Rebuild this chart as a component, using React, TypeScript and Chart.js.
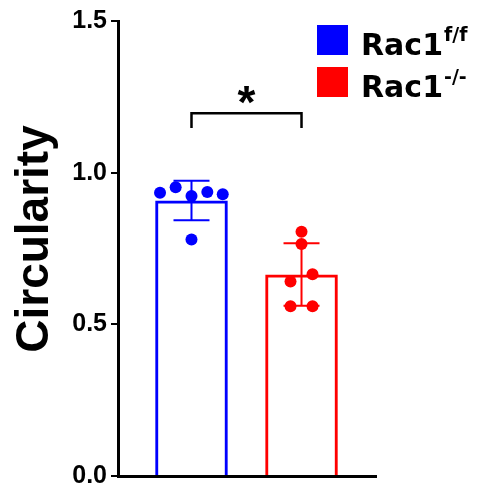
import React, { useEffect, useRef } from 'react';
import { Chart, registerables } from 'chart.js';

Chart.register(...registerables);

// ---- data ----
const groupBase = ['Rac1', 'Rac1'];
const groupSup = ['f/f', '-/-'];
const groupPos = [1, 2];
const groupColors = ['#0000ff', '#ff0000'];
const means = [0.908, 0.664];
const sds = [0.065, 0.103];
const blueValues = [0.934, 0.952, 0.923, 0.936, 0.929, 0.78];
const blueJitter = [-0.286, -0.144, 0, 0.144, 0.284, 0];
const redValues = [0.805, 0.765, 0.665, 0.641, 0.56, 0.56];
const redJitter = [0, 0, 0.1, -0.1, -0.1, 0.1];
const yTicks = [0, 0.5, 1.0, 1.5];
const yTitle = 'Circularity';
const sigLabel = '*';
const sigBracketTop = 1.196;
const sigBracketFoot = 1.147;
const sigLabelY = 1.265;

const FONT = '"Liberation Sans", Arial, sans-serif';

const errorBarPlugin = {
  id: 'errorBars',
  beforeDatasetsDraw(chart: any) {
    const { ctx, scales } = chart;
    const xs = scales.x;
    const ys = scales.y;
    ctx.save();
    ctx.lineWidth = 2;
    groupPos.forEach((gp, i) => {
      const x = xs.getPixelForValue(gp);
      const yt = ys.getPixelForValue(means[i] + sds[i]);
      const yb = ys.getPixelForValue(means[i] - sds[i]);
      ctx.strokeStyle = groupColors[i];
      ctx.beginPath();
      ctx.moveTo(x, yt);
      ctx.lineTo(x, yb);
      ctx.moveTo(x - 18, yt);
      ctx.lineTo(x + 18, yt);
      ctx.moveTo(x - 18, yb);
      ctx.lineTo(x + 18, yb);
      ctx.stroke();
    });
    ctx.restore();
  },
};

const annotationsPlugin = {
  id: 'annotations',
  afterDraw(chart: any) {
    const { ctx, scales } = chart;
    const xs = scales.x;
    const ys = scales.y;
    ctx.save();
    // significance bracket
    const x1 = xs.getPixelForValue(groupPos[0]);
    const x2 = xs.getPixelForValue(groupPos[1]);
    const yTop = ys.getPixelForValue(sigBracketTop);
    const yFoot = ys.getPixelForValue(sigBracketFoot);
    ctx.strokeStyle = '#000';
    ctx.lineWidth = 2.5;
    ctx.lineCap = 'butt';
    ctx.lineJoin = 'miter';
    ctx.beginPath();
    ctx.moveTo(x1, yFoot);
    ctx.lineTo(x1, yTop);
    ctx.lineTo(x2, yTop);
    ctx.lineTo(x2, yFoot);
    ctx.stroke();
    ctx.fillStyle = '#000';
    ctx.font = `bold 46px ${FONT}`;
    ctx.textAlign = 'center';
    ctx.textBaseline = 'alphabetic';
    ctx.fillText(sigLabel, (x1 + x2) / 2, ys.getPixelForValue(sigLabelY) + 26);

    // y title
    ctx.save();
    ctx.translate(48, 239);
    ctx.rotate(-Math.PI / 2);
    ctx.font = `bold 46px ${FONT}`;
    ctx.textAlign = 'center';
    ctx.textBaseline = 'alphabetic';
    ctx.fillText(yTitle, 0, 0);
    ctx.restore();

    // legend
    groupBase.forEach((base, i) => {
      const top = 25 + i * 42;
      ctx.fillStyle = groupColors[i];
      ctx.fillRect(317, top, 31, 30);
      ctx.fillStyle = '#000';
      ctx.textAlign = 'left';
      ctx.font = `bold 30px "DejaVu Sans", sans-serif`;
      ctx.fillText(base, 361, top + 30);
      const w = ctx.measureText(base).width;
      ctx.font = `bold 19px "DejaVu Sans", sans-serif`;
      ctx.fillText(groupSup[i], 361 + w + 1, top + 16);
    });
    ctx.restore();
  },
};

export default function App() {
  const ref = useRef<HTMLCanvasElement>(null);
  useEffect(() => {
    document.body.style.margin = '0';
    const canvas = ref.current!;
    const chart = new Chart(canvas, {
      data: {
        datasets: [
          {
            type: 'scatter',
            data: blueValues.map((v, i) => ({ x: groupPos[0] + blueJitter[i], y: v })),
            backgroundColor: groupColors[0],
            borderWidth: 0,
            pointRadius: 6,
            order: 0,
          },
          {
            type: 'scatter',
            data: redValues.map((v, i) => ({ x: groupPos[1] + redJitter[i], y: v })),
            backgroundColor: groupColors[1],
            borderWidth: 0,
            pointRadius: 6,
            order: 0,
          },
          {
            type: 'bar',
            data: groupPos.map((x, i) => ({ x, y: means[i] })),
            backgroundColor: 'rgba(0,0,0,0)',
            borderColor: groupColors,
            borderWidth: 3,
            borderSkipped: 'start',
            barPercentage: 0.66,
            categoryPercentage: 1,
            order: 1,
          } as any,
        ],
      },
      options: {
        responsive: false,
        animation: false,
        devicePixelRatio: 1,
        layout: { padding: { left: 0, right: 107, top: 21, bottom: 13 } },
        plugins: { legend: { display: false }, tooltip: { enabled: false } },
        scales: {
          x: {
            type: 'linear',
            offset: false,
            min: 0.332,
            max: 2.677,
            afterBuildTicks: (s: any) => {
              s.ticks = groupPos.map((v) => ({ value: v }));
            },
            ticks: { display: false },
            grid: { display: false, drawTicks: false },
            border: { display: true, color: '#000', width: 3 },
            afterFit: (s: any) => {
              s.height = 0;
            },
          },
          y: {
            type: 'linear',
            min: 0,
            max: 1.5,
            afterBuildTicks: (s: any) => {
              s.ticks = yTicks.map((v) => ({ value: v }));
            },
            ticks: {
              color: '#000',
              padding: 4,
              font: { family: FONT, size: 25, weight: 'bold', lineHeight: 0.6 },
              callback: (v: any) => Number(v).toFixed(1),
            },
            grid: {
              display: true,
              drawOnChartArea: false,
              drawTicks: true,
              tickLength: 7,
              color: '#000',
              lineWidth: 2,
            },
            border: { display: true, color: '#000', width: 3 },
            afterFit: (s: any) => {
              s.width = 118;
            },
          },
        },
      },
      plugins: [errorBarPlugin, annotationsPlugin],
    } as any);
    return () => chart.destroy();
  }, []);
  return (
    <div style={{ width: 483, height: 489 }}>
      <canvas ref={ref} width={483} height={489} />
    </div>
  );
}
